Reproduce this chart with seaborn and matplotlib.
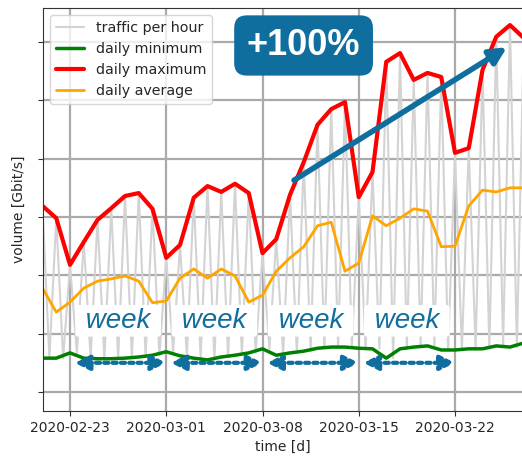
import pandas as pd
import matplotlib
matplotlib.use('Agg')
import matplotlib.pyplot as plt
import matplotlib.dates as mdates
import seaborn as sns

# estilo
sns.set_style('ticks', {'axes.grid': True, 'grid.color': '#aaaaaa'})
plt.rcParams['font.family'] = ['DejaVu Sans']

# dados diarios, a partir de 2020-02-21
dias = pd.date_range('2020-02-21', periods=36, freq='D')
daily_max = [319, 298, 218, 257, 295, 315, 336, 341, 314, 230, 252, 333,
             353, 343, 357, 341, 238, 262, 338, 394, 458, 485, 497, 334,
             377, 566, 581, 535, 547, 540, 410, 418, 552, 609, 629, 607]
daily_avg = [178, 137, 154, 178, 190, 194, 199, 190, 153, 156, 195, 211,
             195, 211, 199, 154, 166, 207, 230, 249, 285, 291, 207, 221,
             302, 285, 298, 314, 310, 249, 250, 319, 346, 343, 350, 350]
daily_min = [58, 58, 67, 58, 57, 57, 58, 60, 63, 69, 62, 58,
             55, 60, 63, 67, 74, 63, 67, 70, 75, 77, 77, 75,
             74, 58, 74, 77, 79, 72, 72, 74, 74, 79, 77, 84]

week_starts = ['2020-02-23', '2020-03-01', '2020-03-08', '2020-03-15']

# trafego por hora: pico a meia-noite, vale ao meio-dia
hora_t, hora_v = [], []
for t, lo, hi in zip(dias, daily_min, daily_max):
    hora_t += [t, t + pd.Timedelta(hours=12)]
    hora_v += [hi, lo]

azul = '#106e9e'

fig = plt.figure(figsize=(5.22, 4.57), dpi=100)
ax = fig.add_axes([43 / 522, 46 / 457, 479 / 522, 403 / 457])

sns.lineplot(x=hora_t, y=hora_v, color='lightgray', lw=1.5, label='traffic per hour', ax=ax)
sns.lineplot(x=dias, y=daily_min, color='green', lw=2.5, label='daily minimum', ax=ax)
sns.lineplot(x=dias, y=daily_max, color='red', lw=3, label='daily maximum', ax=ax)
sns.lineplot(x=dias, y=daily_avg, color='orange', lw=2, label='daily average', ax=ax)

# eixos
ax.set_xlim(mdates.date2num(pd.Timestamp('2020-02-23')) - 1.964,
            mdates.date2num(pd.Timestamp('2020-03-22')) + 4.873)
ax.set_ylim(-32.6, 658.3)
ax.set_yticks(range(0, 700, 100))
ax.set_yticklabels([])
ax.xaxis.set_major_locator(mdates.WeekdayLocator(byweekday=mdates.SU))
ax.xaxis.set_major_formatter(mdates.DateFormatter('%Y-%m-%d'))
ax.tick_params(labelsize=10, color='#333333')
ax.grid(True, color='#aaaaaa', lw=1.6)
ax.spines['right'].set_visible(False)
for s in ['left', 'bottom', 'top']:
    ax.spines[s].set_color('#333333')
ax.set_xlabel('time [d]', fontsize=10)
ax.set_ylabel('volume [Gbit/s]', fontsize=10, labelpad=5)

ax.legend(loc='upper left', fontsize=10.3)

# semanas
for w in week_starts:
    s = pd.Timestamp(w)
    ax.annotate('', xy=(mdates.date2num(s + pd.Timedelta(days=7)), 50),
                xytext=(mdates.date2num(s + pd.Timedelta(hours=8)), 50),
                arrowprops=dict(arrowstyle='<|-|>', color=azul, lw=3, linestyle=(0, (1, 1)),
                                mutation_scale=22, shrinkA=0, shrinkB=0), zorder=6)
    ax.text(mdates.date2num(s + pd.Timedelta(days=3.5)), 110, ' week ', fontsize=20,
            style='italic', family='Liberation Sans', color=azul, ha='center', va='baseline',
            bbox=dict(boxstyle='round,pad=0.1', fc='white', ec='none'), zorder=5)

# seta +100%
ax.annotate('', xy=(mdates.date2num(pd.Timestamp('2020-03-25 18:45')), 591),
            xytext=(mdates.date2num(pd.Timestamp('2020-03-10 07:00')), 363),
            arrowprops=dict(arrowstyle='-|>', color=azul, lw=4, mutation_scale=25,
                            shrinkA=0, shrinkB=0), zorder=6)
ax.text(0.544, 0.907, '+100%', transform=ax.transAxes, fontsize=26, weight='bold',
        family='Liberation Sans', color='white', ha='center', va='center',
        bbox=dict(boxstyle='round,pad=0.35', fc=azul, ec='none'), zorder=7)

plt.savefig('out.png', dpi=100)
